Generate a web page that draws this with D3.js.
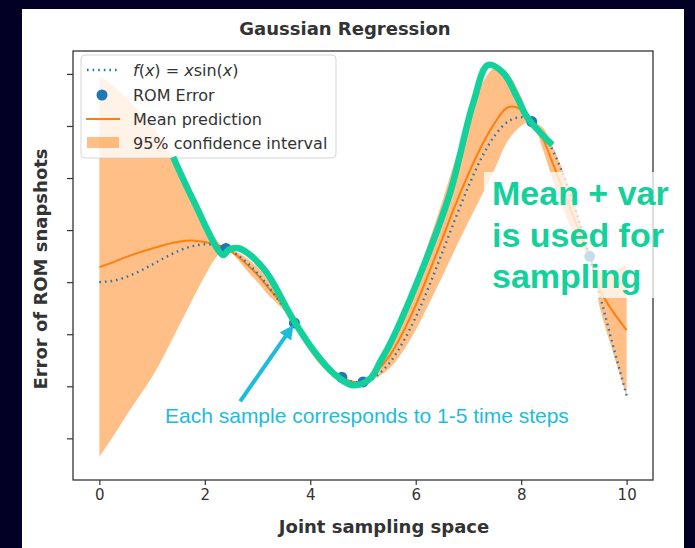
<!DOCTYPE html>
<meta charset="utf-8">
<style>
body { margin: 0; background: #020024; }
svg { display: block; }
</style>
<body>
<div id="chart"></div>
<script src="https://cdn.jsdelivr.net/npm/d3@7"></script>
<script>
// values
const fX = [0,0.25,0.5,0.75,1,1.25,1.5,1.75,2,2.25,2.5,2.75,3,3.25,3.5,3.75,4,4.25,4.5,4.75,
  5,5.25,5.5,5.75,6,6.25,6.5,6.75,7,7.25,7.5,7.75,8,8.25,8.5,8.75,9,9.25,9.5,9.75,10];
const fY = [0,0.06,0.24,0.51,0.84,1.19,1.5,1.72,1.82,1.75,1.5,1.05,0.42,-0.35,-1.23,-2.14,-3.03,-3.8,-4.4,-4.75,
  -4.79,-4.51,-3.88,-2.92,-1.68,-0.21,1.4,3.04,4.6,5.98,7.04,7.71,7.92,7.61,6.79,5.46,3.71,1.61,-0.71,-3.12,-5.44];

const sampleX = [2.4, 3.7, 4.6, 5.0, 8.2, 9.3];
const sampleY = [1.62, -1.96, -4.57, -4.79, 7.71, 1.24];

const gridX = [0,0.25,0.5,0.75,1,1.25,1.5,1.75,2,2.2,2.4,2.6,2.8,3,3.2,3.4,3.7,3.9,4.1,4.3,4.6,4.8,5,
  5.25,5.5,5.75,6,6.25,6.5,6.75,7,7.25,7.5,7.75,8,8.2,8.4,8.6,8.8,9,9.15,9.3,9.5,9.75,10];
const meanY = [0.72,0.95,1.2,1.42,1.62,1.8,1.94,2.0,1.93,1.8,1.62,1.3,0.85,0.35,-0.25,-0.85,-1.96,-2.75,-3.45,-4.0,-4.57,-4.78,-4.79,
  -4.3,-3.55,-2.45,-1.1,0.45,2.05,3.7,5.2,6.55,7.65,8.4,8.3,7.71,6.95,5.7,4.4,3.1,2.15,1.24,-0.4,-1.45,-2.3];
const upperY = [9.86,9.45,8.85,8.2,7.5,6.6,5.5,4.1,2.9,2.1,1.62,1.45,1.15,0.7,0.1,-0.6,-1.96,-2.6,-3.2,-3.8,-4.57,-4.73,-4.79,
  -4.0,-2.95,-1.55,0.1,1.95,3.85,5.9,7.8,9.5,10.3,10.0,8.9,7.71,7.45,6.5,5.3,3.9,2.65,1.24,0.5,0.55,0.9];
const lowerY = [-8.4,-7.45,-6.45,-5.5,-4.55,-3.4,-2.15,-0.9,0.3,1.15,1.62,1.15,0.55,0.0,-0.6,-1.1,-1.96,-2.9,-3.7,-4.2,-4.57,-4.83,-4.79,
  -4.6,-4.15,-3.35,-2.3,-1.05,0.25,1.6,2.9,4.15,5.45,6.8,7.5,7.71,6.45,4.9,3.5,2.3,1.65,1.24,-1.3,-3.45,-5.5];

// hand drawn "mean + var" stroke
const greenX = [1.4,1.78,2.35,2.45,2.64,2.86,3.18,3.66,4.06,4.44,4.82,5.14,5.33,5.52,6.14,6.65,7.09,7.37,7.66,7.92,8.11,8.59];
const greenY = [6.01,3.94,1.3,1.55,1.63,1.3,0.43,-1.73,-3.27,-4.38,-4.95,-4.62,-3.8,-2.93,0.72,4.28,8.6,10.43,10.05,8.89,7.93,6.59];

const xTicks = [0, 2, 4, 6, 8, 10];
const yTicks = [-7.5, -5, -2.5, 0, 2.5, 5, 7.5, 10];

const width = 695, height = 548;
const blue = "#1f77b4", orange = "#ff7f0e", green = "#12d19b", cyan = "#1ebcdc";

const x = d3.scaleLinear().domain([-0.5, 10.5]).range([73, 653]);
const y = d3.scaleLinear().domain([-9.5, 11.1]).range([480, 51]);

const svg = d3.select("#chart").append("svg")
  .attr("width", width)
  .attr("height", height);

// white slide panel
svg.append("rect")
  .attr("x", 22).attr("y", 9)
  .attr("width", 662).attr("height", height - 9)
  .attr("fill", "#fff");

const curve = d3.curveCatmullRom.alpha(0.5);

const band = gridX.map((d, i) => ({x: d, lo: lowerY[i], hi: upperY[i], m: meanY[i]}));

svg.append("path")
  .datum(band)
  .attr("fill", orange)
  .attr("fill-opacity", 0.5)
  .attr("d", d3.area().curve(curve).x(d => x(d.x)).y0(d => y(d.lo)).y1(d => y(d.hi)));

svg.append("path")
  .datum(band)
  .attr("fill", "none")
  .attr("stroke", orange)
  .attr("stroke-width", 2)
  .attr("d", d3.line().curve(curve).x(d => x(d.x)).y(d => y(d.m)));

svg.append("path")
  .datum(fX.map((d, i) => [d, fY[i]]))
  .attr("fill", "none")
  .attr("stroke", blue)
  .attr("stroke-width", 2.4)
  .attr("stroke-dasharray", "1.6,4")
  .attr("d", d3.line().curve(curve).x(d => x(d[0])).y(d => y(d[1])));

svg.append("g")
  .selectAll("circle")
  .data(sampleX)
  .join("circle")
    .attr("cx", d => x(d))
    .attr("cy", (d, i) => y(sampleY[i]))
    .attr("r", 5.5)
    .attr("fill", blue);

// axes
svg.append("g")
  .attr("transform", "translate(0,480)")
  .call(d3.axisBottom(x).tickValues(xTicks).tickSize(5).tickPadding(4))
  .call(g => g.select(".domain").remove())
  .call(g => g.selectAll("line").attr("stroke", "#333").attr("stroke-width", 1.2))
  .call(g => g.selectAll("text")
    .attr("fill", "#333")
    .attr("font-family", "DejaVu Sans, sans-serif")
    .attr("font-size", 15));

svg.append("g")
  .attr("transform", "translate(73,0)")
  .call(d3.axisLeft(y).tickValues(yTicks).tickSize(6).tickFormat(""))
  .call(g => g.select(".domain").remove())
  .call(g => g.selectAll("line").attr("stroke", "#333").attr("stroke-width", 1.2));

svg.append("rect")
  .attr("x", 73).attr("y", 51)
  .attr("width", 580).attr("height", 429)
  .attr("fill", "none")
  .attr("stroke", "#333")
  .attr("stroke-width", 1.3);

// legend
const legend = svg.append("g");
legend.append("rect")
  .attr("x", 81).attr("y", 55)
  .attr("width", 255).attr("height", 103)
  .attr("rx", 4)
  .attr("fill", "#fff").attr("fill-opacity", 0.8)
  .attr("stroke", "#ccc").attr("stroke-opacity", 0.8);
legend.append("line")
  .attr("x1", 87).attr("x2", 117).attr("y1", 70).attr("y2", 70)
  .attr("stroke", blue).attr("stroke-width", 2.4).attr("stroke-dasharray", "1.6,4");
legend.append("circle")
  .attr("cx", 102).attr("cy", 95).attr("r", 5.5).attr("fill", blue);
legend.append("line")
  .attr("x1", 86).attr("x2", 120).attr("y1", 119).attr("y2", 119)
  .attr("stroke", orange).attr("stroke-width", 2);
legend.append("rect")
  .attr("x", 87).attr("y", 137).attr("width", 32).attr("height", 11)
  .attr("fill", orange).attr("fill-opacity", 0.5);

const legendText = legend.append("g")
  .attr("font-family", "DejaVu Sans, sans-serif")
  .attr("font-size", 16)
  .attr("fill", "#333");
const fx = legendText.append("text").attr("x", 133).attr("y", 76);
fx.append("tspan").attr("font-style", "italic").text("f");
fx.append("tspan").text("(");
fx.append("tspan").attr("font-style", "italic").text("x");
fx.append("tspan").text(") = ");
fx.append("tspan").attr("font-style", "italic").text("x");
fx.append("tspan").text("sin(");
fx.append("tspan").attr("font-style", "italic").text("x");
fx.append("tspan").text(")");
legendText.append("text").attr("x", 133).attr("y", 101).text("ROM Error");
legendText.append("text").attr("x", 133).attr("y", 125).text("Mean prediction");
legendText.append("text").attr("x", 133).attr("y", 149).text("95% confidence interval");

// the thick green stroke
svg.append("path")
  .datum(greenX.map((d, i) => [d, greenY[i]]))
  .attr("fill", "none")
  .attr("stroke", green)
  .attr("stroke-width", 6.5)
  .attr("stroke-linejoin", "round")
  .attr("d", d3.line().curve(curve).x(d => x(d[0])).y(d => y(d[1])));

// titles
svg.append("text")
  .attr("x", 345).attr("y", 35)
  .attr("text-anchor", "middle")
  .attr("font-family", "DejaVu Sans, sans-serif")
  .attr("font-weight", "bold")
  .attr("font-size", 18)
  .attr("fill", "#333")
  .text("Gaussian Regression");

svg.append("text")
  .attr("x", 384).attr("y", 533)
  .attr("text-anchor", "middle")
  .attr("font-family", "DejaVu Sans, sans-serif")
  .attr("font-weight", "bold")
  .attr("font-size", 18)
  .attr("fill", "#333")
  .text("Joint sampling space");

svg.append("text")
  .attr("transform", "translate(47,269) rotate(-90)")
  .attr("text-anchor", "middle")
  .attr("font-family", "DejaVu Sans, sans-serif")
  .attr("font-weight", "bold")
  .attr("font-size", 18)
  .attr("fill", "#333")
  .text("Error of ROM snapshots");

// callout box on the right
svg.append("rect")
  .attr("x", 484).attr("y", 172)
  .attr("width", 172).attr("height", 126)
  .attr("fill", "#fff").attr("fill-opacity", 0.75);

svg.append("text")
  .attr("font-family", "Liberation Sans, Arial, sans-serif")
  .attr("font-weight", "bold")
  .attr("font-size", 34)
  .attr("fill", green)
  .selectAll("tspan")
  .data(["Mean + var", "is used for", "sampling"])
  .join("tspan")
    .attr("x", 492)
    .attr("y", (d, i) => 205 + i * 41.5)
    .text(d => d);

// arrow to a sample
const tail = [x(2.67), y(-5.72)];
const tip = [x(sampleX[1]) - 1, y(sampleY[1]) + 2];
const dx = tip[0] - tail[0], dy = tip[1] - tail[1];
const len = Math.hypot(dx, dy);
const ux = dx / len, uy = dy / len;
svg.append("line")
  .attr("x1", tail[0]).attr("y1", tail[1])
  .attr("x2", tip[0] - ux * 10).attr("y2", tip[1] - uy * 10)
  .attr("stroke", cyan).attr("stroke-width", 4);
svg.append("path")
  .attr("fill", cyan)
  .attr("d", `M${tip[0]},${tip[1]}L${tip[0] - ux * 14 - uy * 7},${tip[1] - uy * 14 + ux * 7}L${tip[0] - ux * 14 + uy * 7},${tip[1] - uy * 14 - ux * 7}Z`);

svg.append("text")
  .attr("x", 165).attr("y", 423)
  .attr("font-family", "Liberation Sans, Arial, sans-serif")
  .attr("font-size", 21)
  .attr("fill", cyan)
  .text("Each sample corresponds to 1-5 time steps");
</script>
